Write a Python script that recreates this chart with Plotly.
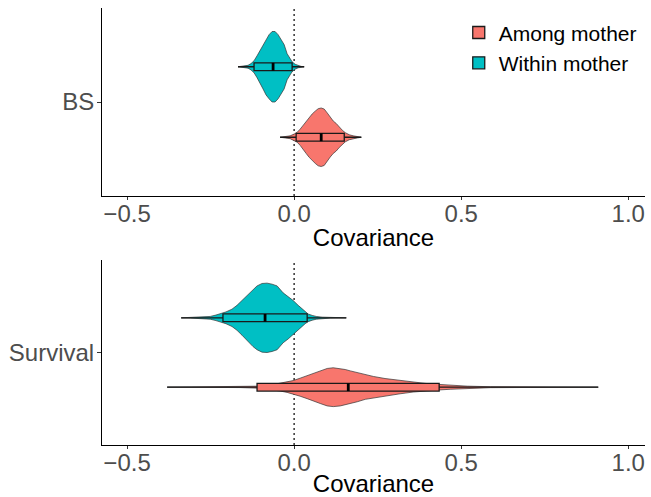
import plotly.graph_objects as go

# ---------------- data ----------------
groups = ["Among mother", "Within mother"]
panels = ["BS", "Survival"]
colors = {"Among mother": "#F8766D", "Within mother": "#00BFC4"}

# violin outlines: covariance grid and relative density (peak of panel = 1)
bs_among_x = [-0.042, -0.027, -0.012, 0.000, 0.009, 0.018, 0.027, 0.036, 0.045, 0.054, 0.063,
              0.072, 0.081, 0.090, 0.099, 0.108, 0.117, 0.126, 0.135, 0.144, 0.153, 0.165,
              0.177, 0.189, 0.201]
bs_among_dens = [0, .02, .04, .09, .14, .23, .34, .46, .57, .66, .74, .81, .83, .80, .69, .56,
                 .46, .39, .29, .20, .13, .07, .04, .02, 0]

bs_within_x = [-0.168, -0.150, -0.138, -0.129, -0.120, -0.111, -0.102, -0.093, -0.084, -0.075,
               -0.066, -0.057, -0.048, -0.039, -0.030, -0.021, -0.012, -0.006, 0.003, 0.012,
               0.021, 0.030]
bs_within_dens = [0, .02, .04, .09, .17, .31, .46, .63, .80, .91, 1.0, 1.0, .91, .77, .63, .37,
                  .23, .14, .07, .03, .01, 0]

surv_among_x = [-0.380, -0.281, -0.162, -0.102, -0.072, -0.042, -0.021, -0.003, 0.018, 0.039,
                0.060, 0.078, 0.099, 0.117, 0.138, 0.153, 0.168, 0.189, 0.213, 0.237, 0.272,
                0.317, 0.356, 0.392, 0.434, 0.467, 0.518, 0.587, 0.707, 0.826, 0.910]
surv_among_dens = [0, .006, .011, .03, .06, .11, .15, .19, .26, .33, .40, .47, .54, .56, .54,
                   .51, .47, .42, .35, .31, .25, .19, .14, .11, .08, .06, .03, .014, .008, .006, 0]

surv_within_x = [-0.338, -0.311, -0.281, -0.251, -0.234, -0.222, -0.204, -0.186, -0.171, -0.156,
                 -0.138, -0.123, -0.111, -0.096, -0.081, -0.066, -0.051, -0.033, -0.018, -0.003,
                 0.012, 0.024, 0.033, 0.042, 0.054, 0.066, 0.084, 0.108, 0.132, 0.156]
surv_within_dens = [0, .006, .014, .04, .08, .11, .17, .25, .36, .50, .67, .83, .92, .99, 1.0,
                    .97, .92, .72, .61, .50, .36, .25, .17, .11, .07, .04, .02, .008, .003, 0]

# box statistics: lower whisker, q1, median, q3, upper whisker
bs_among_box = [-0.042, 0.006, 0.081, 0.150, 0.201]
bs_within_box = [-0.168, -0.120, -0.063, -0.006, 0.030]
surv_among_box = [-0.380, -0.111, 0.162, 0.434, 0.910]
surv_within_box = [-0.338, -0.213, -0.087, 0.039, 0.156]

x_ticks = [-0.5, 0.0, 0.5, 1.0]
x_tick_labels = ["\u22120.5", "0.0", "0.5", "1.0"]

violins = {
    ("BS", "Among mother"): (bs_among_x, bs_among_dens, bs_among_box),
    ("BS", "Within mother"): (bs_within_x, bs_within_dens, bs_within_box),
    ("Survival", "Among mother"): (surv_among_x, surv_among_dens, surv_among_box),
    ("Survival", "Within mother"): (surv_within_x, surv_within_dens, surv_within_box),
}

# ---------------- figure ----------------
FONT = "Liberation Sans, Arial, sans-serif"
half_width = 0.225   # ggplot dodge 0.9 -> max violin half width
box_w = 0.05
offsets = {"Among mother": -0.225, "Within mother": 0.225}
X_RANGE = [-0.575, 1.05]
Y_RANGE = [0.4, 1.6]

# base axes hold the violins, overlay axes (drawn on top) hold the boxes
base_axes = [("x", "y"), ("x2", "y2")]
over_axes = [("x3", "y3"), ("x4", "y4")]

fig = go.Figure()
for pi, panel in enumerate(panels):
    xa, ya = base_axes[pi]
    ox, oy = over_axes[pi]
    for g in groups:
        xs, dens, box = violins[(panel, g)]
        pos = 1 + offsets[g]
        upper = [pos + d * half_width for d in dens]
        lower = [pos - d * half_width for d in dens]
        fig.add_trace(go.Scatter(
            x=list(xs) + list(xs)[::-1], y=upper + lower[::-1],
            fill="toself", fillcolor=colors[g], mode="lines",
            line=dict(color="#333333", width=0.7), hoverinfo="skip",
            showlegend=False, xaxis=xa, yaxis=ya))
        fig.add_trace(go.Box(
            orientation="h", y=[pos], lowerfence=[box[0]], q1=[box[1]], median=[box[2]],
            q3=[box[3]], upperfence=[box[4]], width=box_w, whiskerwidth=0,
            fillcolor=colors[g], line=dict(color="#1a1a1a", width=1.3),
            name=g, legendgroup=g, showlegend=(pi == 0), boxpoints=False,
            xaxis=ox, yaxis=oy))
        fig.add_trace(go.Scatter(
            x=[box[2], box[2]], y=[pos - box_w / 2, pos + box_w / 2], mode="lines",
            line=dict(color="black", width=2.8), hoverinfo="skip", showlegend=False,
            xaxis=ox, yaxis=oy))
    fig.add_shape(type="line", x0=0, x1=0, y0=0, y1=1, xref=xa, yref=f"{ya} domain",
                  line=dict(color="#333333", width=1.5, dash="2px,3px"), layer="below")

xaxis_common = dict(
    range=X_RANGE, tickvals=x_ticks, ticktext=x_tick_labels, automargin=False,
    showline=True, linecolor="black", linewidth=1, mirror=False,
    ticks="outside", ticklen=3, tickcolor="#333333", showgrid=False, zeroline=False,
    tickfont=dict(size=24, color="#4D4D4D", family=FONT), ticklabelstandoff=-7,
    title=dict(text="Covariance", font=dict(size=24, color="black", family=FONT), standoff=3),
)
yaxis_common = dict(
    range=Y_RANGE, tickvals=[1], showline=True, linecolor="black", linewidth=1,
    ticks="outside", ticklen=4, tickcolor="#333333", showgrid=False, zeroline=False,
    automargin=False, tickfont=dict(size=24, color="#4D4D4D", family=FONT),
    ticklabelstandoff=-2,
)
hidden = dict(visible=False, showgrid=False, zeroline=False)

fig.update_layout(
    width=651, height=497,
    margin=dict(l=102, r=6, t=8, b=52),
    paper_bgcolor="white", plot_bgcolor="white",
    font=dict(family=FONT),
    xaxis=dict(**xaxis_common, domain=[0, 1], anchor="y"),
    yaxis=dict(**yaxis_common, ticktext=[panels[0]], domain=[0.5698, 1.0], anchor="x"),
    xaxis2=dict(**xaxis_common, domain=[0, 1], anchor="y2"),
    yaxis2=dict(**yaxis_common, ticktext=[panels[1]], domain=[0.0, 0.4233], anchor="x2"),
    xaxis3=dict(**hidden, range=X_RANGE, overlaying="x", anchor="y3"),
    yaxis3=dict(**hidden, range=Y_RANGE, overlaying="y", anchor="x3"),
    xaxis4=dict(**hidden, range=X_RANGE, overlaying="x2", anchor="y4"),
    yaxis4=dict(**hidden, range=Y_RANGE, overlaying="y2", anchor="x4"),
    legend=dict(x=0.657, y=0.99, xanchor="left", yanchor="top",
                font=dict(size=21, color="black", family=FONT),
                bgcolor="rgba(0,0,0,0)", traceorder="normal", tracegroupgap=0),
    showlegend=True,
)

fig.write_html("out.html", config={"displayModeBar": False},
               post_script="document.body.style.margin='0';document.body.style.overflow='hidden';")
